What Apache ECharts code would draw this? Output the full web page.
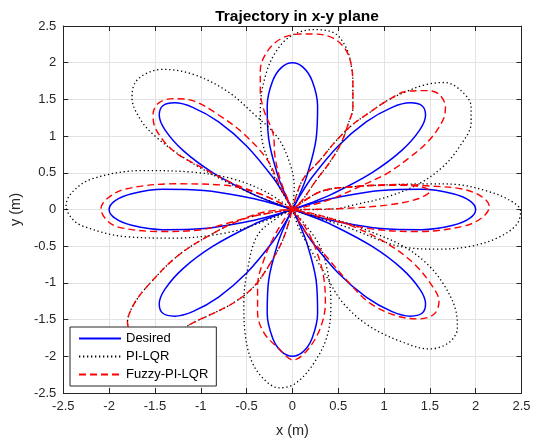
<!DOCTYPE html>
<html>
<head>
<meta charset="utf-8">
<script src="https://cdn.jsdelivr.net/npm/echarts@6/dist/echarts.min.js"></script>
<style>
html,body{margin:0;padding:0;background:#fff;}
#chart{width:535px;height:443px;}
</style>
</head>
<body>
<div id="chart"></div>
<script>
// ---- data (x, y in metres), each petal is a closed loop through the origin ----
const seriesNames = ['Desired', 'PI-LQR', 'Fuzzy-PI-LQR'];
const axisMin = -2.5, axisMax = 2.5, axisStep = 0.5;

const desiredPetals = [
  [[0,0],[0.195,-0.075],[0.458,-0.158],[0.966,-0.259],[1.413,-0.275],[1.753,-0.215],[1.937,-0.118],[2,0],[1.937,0.118],[1.753,0.215],[1.413,0.275],[0.966,0.259],[0.458,0.158],[0.195,0.075],[0,0]],
  [[0,0],[-0.191,-0.085],[-0.436,-0.212],[-0.866,-0.5],[-1.194,-0.805],[-1.392,-1.088],[-1.453,-1.286],[-1.414,-1.414],[-1.286,-1.453],[-1.088,-1.392],[-0.805,-1.194],[-0.5,-0.866],[-0.212,-0.436],[-0.085,-0.191],[0,0]],
  [[0,0],[0.075,0.195],[0.158,0.458],[0.259,0.966],[0.275,1.413],[0.215,1.753],[0.118,1.937],[0,2],[-0.118,1.937],[-0.215,1.753],[-0.275,1.413],[-0.259,0.966],[-0.158,0.458],[-0.075,0.195],[0,0]],
  [[0,0],[0.085,-0.191],[0.212,-0.436],[0.5,-0.866],[0.805,-1.194],[1.088,-1.392],[1.286,-1.453],[1.414,-1.414],[1.453,-1.286],[1.392,-1.088],[1.194,-0.805],[0.866,-0.5],[0.436,-0.212],[0.191,-0.085],[0,0]],
  [[0,0],[-0.195,0.075],[-0.458,0.158],[-0.966,0.259],[-1.413,0.275],[-1.753,0.215],[-1.937,0.118],[-2,0],[-1.937,-0.118],[-1.753,-0.215],[-1.413,-0.275],[-0.966,-0.259],[-0.458,-0.158],[-0.195,-0.075],[0,0]],
  [[0,0],[0.191,0.085],[0.436,0.212],[0.866,0.5],[1.194,0.805],[1.392,1.088],[1.453,1.286],[1.414,1.414],[1.286,1.453],[1.088,1.392],[0.805,1.194],[0.5,0.866],[0.212,0.436],[0.085,0.191],[0,0]],
  [[0,0],[-0.075,-0.195],[-0.158,-0.458],[-0.259,-0.966],[-0.275,-1.413],[-0.215,-1.753],[-0.118,-1.937],[0,-2],[0.118,-1.937],[0.215,-1.753],[0.275,-1.413],[0.259,-0.966],[0.158,-0.458],[0.075,-0.195],[0,0]],
  [[0,0],[-0.085,0.191],[-0.212,0.436],[-0.5,0.866],[-0.805,1.194],[-1.088,1.392],[-1.286,1.453],[-1.414,1.414],[-1.453,1.286],[-1.392,1.088],[-1.194,0.805],[-0.866,0.5],[-0.436,0.212],[-0.191,0.085],[0,0]]
];

const piLqrPetals = [
  [[0,0],[-0.16,0.35],[-0.25,0.62],[-0.33,0.94],[-0.35,1.39],[-0.29,1.84],[-0.18,2.15],[-0.02,2.36],[0.22,2.45],[0.45,2.41],[0.58,2.22],[0.64,1.98],[0.66,1.71],[0.66,1.39],[0.61,1.17],[0.53,0.90],[0.40,0.63],[0.26,0.40],[0.11,0.13],[0,0]],
  [[0,0],[0.2,0.0],[0.48,0.01],[0.66,0.06],[1.03,0.17],[1.38,0.35],[1.64,0.58],[1.82,0.85],[1.95,1.18],[1.95,1.40],[1.84,1.62],[1.66,1.73],[1.45,1.70],[1.25,1.61],[1.03,1.48],[0.84,1.32],[0.66,1.16],[0.48,0.94],[0.30,0.67],[0.11,0.40],[0,0]],
  [[0,0],[0.30,0.24],[0.66,0.31],[1.14,0.34],[1.50,0.35],[1.80,0.34],[2.10,0.26],[2.35,0.14],[2.49,-0.02],[2.45,-0.20],[2.25,-0.38],[1.95,-0.50],[1.60,-0.54],[1.25,-0.52],[1.00,-0.44],[0.66,-0.27],[0.30,-0.12],[0,0]],
  [[0,0],[0.08,-0.28],[0.22,-0.59],[0.37,-0.91],[0.55,-1.27],[0.84,-1.59],[1.21,-1.81],[1.49,-1.90],[1.70,-1.82],[1.80,-1.62],[1.78,-1.36],[1.64,-1.00],[1.46,-0.73],[1.21,-0.50],[0.85,-0.30],[0.45,-0.13],[0,0]],
  [[0,0],[0.28,-0.45],[0.38,-0.82],[0.42,-1.27],[0.38,-1.72],[0.22,-2.12],[0.02,-2.38],[-0.15,-2.43],[-0.32,-2.30],[-0.45,-2.05],[-0.52,-1.65],[-0.53,-1.27],[-0.49,-0.82],[-0.38,-0.35],[-0.15,-0.10],[0,0]],
  [[0,0],[-0.51,-0.12],[-0.93,-0.37],[-1.26,-0.64],[-1.55,-1.00],[-1.72,-1.27],[-1.80,-1.54],[-1.72,-1.72],[-1.50,-1.80],[-1.28,-1.70],[-1.11,-1.56],[-0.89,-1.43],[-0.64,-1.27],[-0.42,-1.05],[-0.24,-0.73],[-0.10,-0.40],[0,0]],
  [[0,0],[-0.29,0.24],[-0.66,0.42],[-1.10,0.51],[-1.64,0.53],[-2.18,0.42],[-2.40,0.24],[-2.47,0.05],[-2.42,-0.10],[-2.30,-0.22],[-1.82,-0.37],[-1.28,-0.39],[-0.73,-0.32],[-0.37,-0.19],[0,0]],
  [[0,0],[-0.45,0.22],[-0.82,0.44],[-1.19,0.71],[-1.48,0.98],[-1.65,1.21],[-1.75,1.52],[-1.72,1.72],[-1.60,1.85],[-1.42,1.91],[-1.08,1.84],[-0.71,1.61],[-0.42,1.30],[-0.16,0.98],[-0.02,0.60],[0.02,0.30],[0,0]]
];

const fuzzyPetals = [
  [[0,0],[-0.12,0.36],[-0.19,0.72],[-0.21,1.03],[-0.31,1.35],[-0.35,1.62],[-0.35,1.90],[-0.27,2.16],[-0.12,2.33],[0.08,2.39],[0.25,2.39],[0.45,2.33],[0.58,2.18],[0.64,1.98],[0.66,1.71],[0.66,1.39],[0.61,1.17],[0.53,0.90],[0.40,0.63],[0.26,0.40],[0.11,0.13],[0,0]],
  [[0,0],[0.15,0.04],[0.40,0.13],[0.73,0.31],[1.03,0.49],[1.28,0.71],[1.49,0.94],[1.64,1.21],[1.67,1.39],[1.60,1.57],[1.46,1.62],[1.25,1.61],[1.03,1.48],[0.84,1.32],[0.66,1.16],[0.48,0.94],[0.30,0.67],[0.11,0.40],[0,0]],
  [[0,0],[0.30,-0.10],[0.84,-0.26],[1.38,-0.30],[1.89,-0.22],[2.08,-0.10],[2.15,0.04],[2.06,0.18],[1.85,0.28],[1.50,0.32],[1.14,0.34],[0.66,0.31],[0.30,0.24],[0,0]],
  [[0,0],[0.48,0.01],[1.03,0.06],[1.38,0.15],[1.50,0.25],[1.40,0.31],[1.14,0.33],[0.66,0.31],[0.30,0.24],[0,0]],
  [[0,0],[0.15,-0.32],[0.37,-0.64],[0.59,-0.96],[0.84,-1.27],[1.14,-1.45],[1.39,-1.49],[1.55,-1.42],[1.60,-1.25],[1.53,-1.05],[1.32,-0.73],[1.03,-0.46],[0.66,-0.23],[0.30,-0.08],[0,0]],
  [[0,0],[-0.07,-0.10],[-0.20,-0.37],[-0.31,-0.68],[-0.38,-1.04],[-0.38,-1.41],[-0.31,-1.68],[-0.16,-1.88],[0.01,-2.05],[0.16,-1.92],[0.30,-1.63],[0.36,-1.27],[0.34,-0.91],[0.27,-0.59],[0.16,-0.28],[0,0]],
  [[0,0],[-0.51,-0.12],[-0.93,-0.37],[-1.26,-0.64],[-1.55,-1.00],[-1.72,-1.27],[-1.80,-1.54],[-1.72,-1.72],[-1.50,-1.80],[-1.28,-1.70],[-1.11,-1.56],[-0.89,-1.43],[-0.64,-1.27],[-0.42,-1.05],[-0.24,-0.73],[-0.10,-0.40],[0,0]],
  [[0,0],[-0.15,0.10],[-0.37,0.22],[-0.73,0.33],[-1.28,0.35],[-1.82,0.28],[-2.02,0.15],[-2.09,0.01],[-2.03,-0.14],[-1.90,-0.24],[-1.46,-0.30],[-1.02,-0.28],[-0.66,-0.17],[-0.29,-0.03],[0,0]],
  [[0,0],[-0.27,0.17],[-0.64,0.35],[-1.00,0.58],[-1.30,0.80],[-1.50,1.12],[-1.52,1.30],[-1.46,1.45],[-1.30,1.51],[-1.08,1.48],[-0.82,1.30],[-0.53,1.03],[-0.27,0.67],[-0.13,0.30],[0,0]]
];

// ---- styles ----
const FONT = '"Liberation Sans", Arial, Helvetica, sans-serif';
const styles = {
  'Desired':      { color: '#0000ff', width: 1.5, type: 'solid', z: 2 },
  'PI-LQR':       { color: '#000000', width: 1.3, type: [1.3, 2.7], z: 3 },
  'Fuzzy-PI-LQR': { color: '#ff0000', width: 1.4, type: [7, 4], z: 4 }
};

function petalSeries(name, petals) {
  const st = styles[name];
  return petals.map(p => ({
    type: 'line', name: name, data: p,
    symbol: 'none', showSymbol: false, smooth: 0.35,
    z: st.z, silent: true, animation: false,
    lineStyle: { color: st.color, width: st.width, type: st.type, cap: 'butt' },
    itemStyle: { color: st.color }
  }));
}

const series = [].concat(
  petalSeries('Desired', desiredPetals),
  petalSeries('PI-LQR', piLqrPetals),
  petalSeries('Fuzzy-PI-LQR', fuzzyPetals)
);

const axisColor = '#262626';
function mainAxis(pos, extra) {
  return Object.assign({
    type: 'value', position: pos, min: axisMin, max: axisMax, interval: axisStep,
    axisLine: { show: true, onZero: false, lineStyle: { color: axisColor, width: 1 } },
    axisTick: { show: true, inside: true, length: 5, lineStyle: { color: axisColor } },
    axisLabel: { show: true, color: axisColor, fontSize: 13, fontFamily: FONT, margin: 7 },
    splitLine: { show: true, lineStyle: { color: '#e3e3e3', width: 1 } }
  }, extra || {});
}
function boxAxis(pos) {
  return {
    type: 'value', position: pos, min: axisMin, max: axisMax, interval: axisStep,
    axisLine: { show: true, onZero: false, lineStyle: { color: axisColor, width: 1 } },
    axisTick: { show: true, inside: true, length: 5, lineStyle: { color: axisColor } },
    axisLabel: { show: false }, splitLine: { show: false }
  };
}

const chart = echarts.init(document.getElementById('chart'), null, { renderer: 'canvas' });
chart.setOption({
  animation: false,
  backgroundColor: '#ffffff',
  title: {
    text: 'Trajectory in x-y plane', left: 292, top: 4, textAlign: 'center',
    textStyle: { fontSize: 15.5, fontWeight: 'bold', color: '#000', fontFamily: FONT }
  },
  grid: { left: 62, right: 13.5, top: 26, bottom: 47, containLabel: false },
  xAxis: [
    mainAxis('bottom', { name: 'x (m)', nameLocation: 'middle', nameGap: 30,
      nameTextStyle: { fontSize: 14.5, color: axisColor, fontFamily: FONT } }),
    boxAxis('top')
  ],
  yAxis: [
    mainAxis('left', { name: 'y (m)', nameLocation: 'middle', nameGap: 34,
      nameTextStyle: { fontSize: 14.5, color: axisColor, fontFamily: FONT } }),
    boxAxis('right')
  ],
  legend: {
    data: seriesNames, orient: 'vertical', left: 70, top: 327,
    backgroundColor: '#ffffff', borderColor: axisColor, borderWidth: 1, borderRadius: 0,
    padding: [5, 8, 5, 8], itemGap: 5, itemWidth: 42, itemHeight: 13,
    itemStyle: { opacity: 0 },
    textStyle: { fontSize: 13, color: '#000', fontFamily: FONT },
    selectedMode: false, z: 10
  },
  series: series
});
</script>
</body>
</html>
